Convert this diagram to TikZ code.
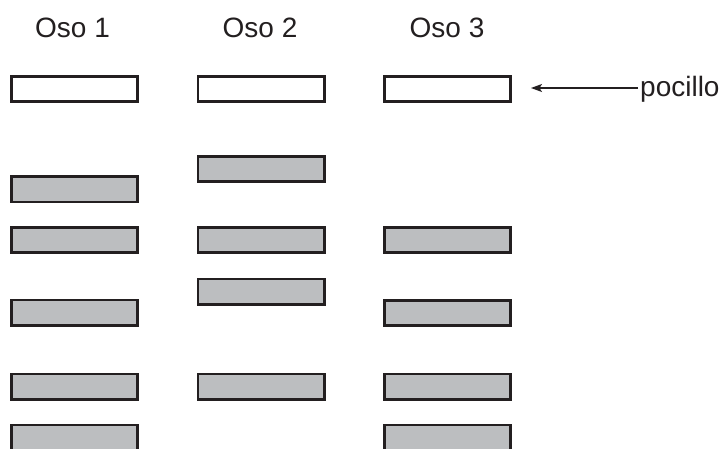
\documentclass[tikz,border=0pt]{standalone}
\usepackage{fontspec}
\setmainfont{Liberation Sans}
\usetikzlibrary{arrows.meta}
\definecolor{bandgray}{HTML}{BCBEC0}
\definecolor{inkblack}{HTML}{231F20}
\tikzset{
  band/.style={draw=inkblack, line width=2.6pt, fill=bandgray, minimum width=126.4pt, minimum height=25.4pt, inner sep=0pt},
  wellbox/.style={band, fill=white},
  head/.style={font=\fontsize{28}{32}\selectfont, text=inkblack, anchor=base, inner sep=0pt},
  lbl/.style={font=\fontsize{28}{32}\selectfont, text=inkblack, anchor=base west, inner sep=0pt},
  pointer/.style={draw=inkblack, line width=1.1pt, -{Stealth[length=11pt,width=8pt,inset=2.5pt]}}
}
\begin{document}
\begin{tikzpicture}[x=1pt,y=-1pt]
\useasboundingbox (0,0) rectangle (725,449);
\clip (0,0) rectangle (725,449);
% headings
\node[head] (h1) at (72.5,38) {Oso 1};
\node[head] (h2) at (260,38) {Oso 2};
\node[head] (h3) at (447,38) {Oso 3};
% wells
\node[wellbox] (w1) at (74.5,89) {};
\node[wellbox] (w2) at (261,89) {};
\node[wellbox] (w3) at (447.5,89) {};
% column 1
\node[band] (a1) at (74.5,189.5) {};
\node[band] (a2) at (74.5,240) {};
\node[band] (a3) at (74.5,312.5) {};
\node[band] (a4) at (74.5,386.5) {};
\node[band] (a5) at (74.5,437.5) {};
% column 2
\node[band] (b1) at (261,169) {};
\node[band] (b2) at (261,240) {};
\node[band] (b3) at (261,291.5) {};
\node[band] (b4) at (261,386.5) {};
% column 3
\node[band] (c1) at (447.5,240) {};
\node[band] (c2) at (447.5,313) {};
\node[band] (c3) at (447.5,386.5) {};
\node[band] (c4) at (447.5,437.5) {};
% label and arrow
\node[lbl] (poc) at (640,97) {pocillo};
\coordinate (tip) at (531,88);
\coordinate (tail) at (638,88);
\draw[pointer] (tail) -- (tip);
\end{tikzpicture}
\end{document}
